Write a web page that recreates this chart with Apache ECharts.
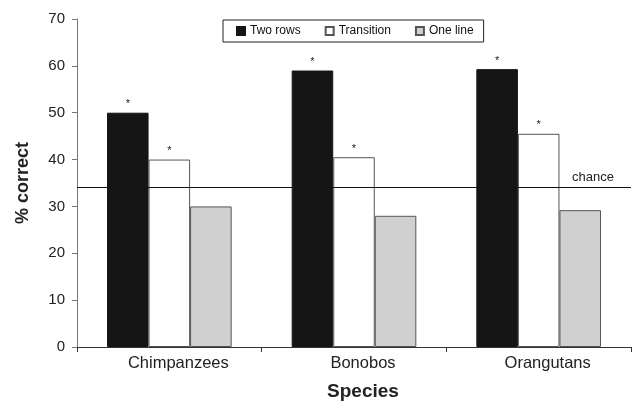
<!DOCTYPE html>
<html>
<head>
<meta charset="utf-8">
<script src="https://cdn.jsdelivr.net/npm/echarts@6/dist/echarts.min.js"></script>
<style>
  html, body { margin: 0; padding: 0; background: #fff; }
  #chart { width: 633px; height: 406px; }
</style>
</head>
<body>
<div id="chart"></div>
<script>
// data
const species = ['Chimpanzees', 'Bonobos', 'Orangutans'];
const twoRows = [50, 59, 59.3];
const transition = [40, 40.5, 45.5];
const oneLine = [30, 28, 29.2];
const chanceLevel = 34;
const yTicks = [0, 10, 20, 30, 40, 50, 60, 70];

const font = 'Liberation Sans, Arial, sans-serif';
const chart = echarts.init(document.getElementById('chart'), null, { renderer: 'canvas' });

const star = {
  show: true,
  position: 'top',
  formatter: '*',
  distance: 3,
  fontSize: 11,
  color: '#222',
  fontFamily: font
};

const option = {
  animation: false,
  backgroundColor: '#fff',
  textStyle: { fontFamily: font },
  grid: { left: 77, right: 2, top: 19, bottom: 59, outerBoundsMode: 'none' },
  legend: {
    data: ['Two rows', 'Transition', 'One line'],
    icon: 'rect',
    left: 223,
    top: 20,
    itemWidth: 8,
    itemHeight: 8,
    itemGap: 24,
    padding: [5, 10, 5, 13],
    borderColor: '#222',
    borderWidth: 1,
    textStyle: { fontSize: 12, color: '#111', fontFamily: font }
  },
  xAxis: {
    type: 'category',
    data: species,
    name: 'Species',
    nameLocation: 'middle',
    nameGap: 35,
    nameTextStyle: { fontSize: 19, fontWeight: 'bold', color: '#222', fontFamily: font, padding: [0, 0, 0, 18] },
    axisLine: { lineStyle: { color: '#333', width: 1 } },
    axisTick: { show: true, alignWithLabel: false, length: 5, lineStyle: { color: '#333' } },
    axisLabel: { fontSize: 16.5, color: '#222', margin: 8, fontFamily: font, padding: [0, 0, 0, 18] }
  },
  yAxis: {
    type: 'value',
    min: yTicks[0],
    max: yTicks[yTicks.length - 1],
    interval: 10,
    name: '% correct',
    nameLocation: 'middle',
    nameRotate: 90,
    nameGap: 45,
    nameTextStyle: { fontSize: 18, fontWeight: 'bold', color: '#222', fontFamily: font },
    axisLine: { show: true, lineStyle: { color: '#777', width: 1 } },
    axisTick: { show: true, length: 5, lineStyle: { color: '#777' } },
    axisLabel: { fontSize: 15, color: '#222', margin: 12, fontFamily: font },
    splitLine: { show: false }
  },
  series: [
    {
      name: 'Two rows',
      type: 'bar',
      data: twoRows,
      barWidth: '22.5%',
      barGap: '0%',
      itemStyle: { color: '#151515', borderColor: '#151515', borderWidth: 1 },
      label: star,
      markLine: {
        silent: true,
        symbol: 'none',
        lineStyle: { color: '#111', width: 1, type: 'solid' },
        label: {
          show: true,
          position: 'insideEndTop',
          formatter: 'chance',
          fontSize: 13,
          color: '#222',
          distance: [17, 4],
          fontFamily: font
        },
        data: [{ yAxis: chanceLevel }]
      }
    },
    {
      name: 'Transition',
      type: 'bar',
      data: transition,
      barWidth: '22.5%',
      itemStyle: { color: '#ffffff', borderColor: '#555', borderWidth: 1 },
      label: star
    },
    {
      name: 'One line',
      type: 'bar',
      data: oneLine,
      barWidth: '22.5%',
      itemStyle: { color: '#d0d0d0', borderColor: '#555', borderWidth: 1 }
    }
  ]
};

chart.setOption(option);
</script>
</body>
</html>
